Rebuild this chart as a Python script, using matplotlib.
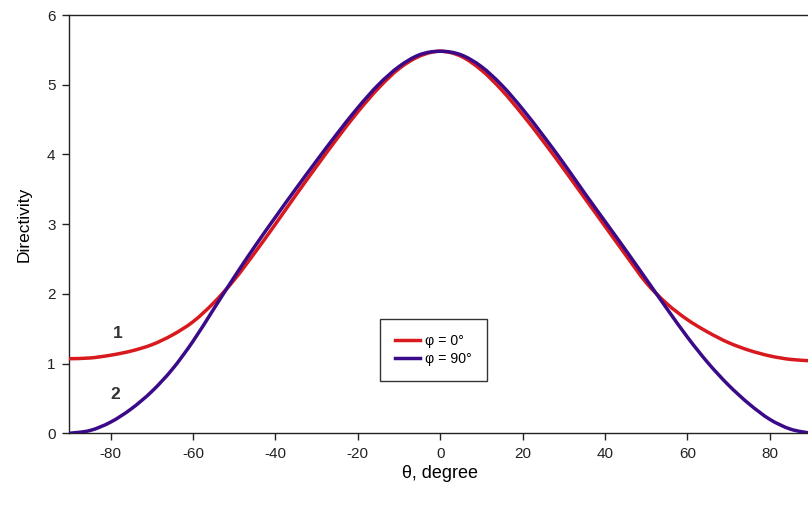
import matplotlib
matplotlib.use("Agg")
import matplotlib.pyplot as plt
from matplotlib.path import Path
from matplotlib.patches import PathPatch
from matplotlib.lines import Line2D

plt.rcParams['font.family'] = ['Liberation Sans', 'DejaVu Sans']
plt.rcParams['axes.unicode_minus'] = False

theta = [-90, -85, -80, -75, -70, -65, -60, -55, -50, -45, -40, -35, -30, -25,
         -20, -15, -10, -5, 0, 5, 10, 15, 20, 25, 30, 35, 40, 45, 50, 55, 60,
         65, 70, 75, 80, 85, 90]

d_phi0 = [1.07, 1.08, 1.12, 1.18, 1.27, 1.41, 1.60, 1.87, 2.20, 2.59, 3.00,
          3.42, 3.83, 4.23, 4.61, 4.95, 5.23, 5.41, 5.48, 5.41, 5.21, 4.92,
          4.57, 4.19, 3.79, 3.38, 2.97, 2.56, 2.16, 1.86, 1.63, 1.45, 1.30,
          1.19, 1.11, 1.06, 1.04]

d_phi90 = [0.00, 0.04, 0.16, 0.35, 0.60, 0.92, 1.32, 1.78, 2.24, 2.68, 3.10,
           3.51, 3.91, 4.30, 4.67, 5.00, 5.26, 5.43, 5.48, 5.43, 5.26, 4.99,
           4.65, 4.27, 3.87, 3.45, 3.04, 2.63, 2.21, 1.79, 1.38, 1.01, 0.69,
           0.42, 0.20, 0.06, 0.00]

labels = ['\u03c6 = 0\u00b0', '\u03c6 = 90\u00b0']
colors = ['#d8191e', '#3a0a88']

xticks = [-80, -60, -40, -20, 0, 20, 40, 60, 80]
yticks = [0, 1, 2, 3, 4, 5, 6]


def smooth_path(xs, ys):
    """Catmull-Rom spline through the data points, as a Bezier path."""
    n = len(xs)
    pts = list(zip(xs, ys))
    verts = [pts[0]]
    codes = [Path.MOVETO]
    for i in range(n - 1):
        p0 = pts[i - 1] if i > 0 else pts[i]
        p1 = pts[i]
        p2 = pts[i + 1]
        p3 = pts[i + 2] if i + 2 < n else pts[i + 1]
        c1 = (p1[0] + (p2[0] - p0[0]) / 6.0, p1[1] + (p2[1] - p0[1]) / 6.0)
        c2 = (p2[0] - (p3[0] - p1[0]) / 6.0, p2[1] - (p3[1] - p1[1]) / 6.0)
        verts += [c1, c2, p2]
        codes += [Path.CURVE4] * 3
    return Path(verts, codes)


fig = plt.figure(figsize=(8.08, 5.07), dpi=100)
ax = fig.add_axes([0.0859, 0.1454, 0.9178, 0.825])

handles = []
for ys, col, lab, z in [(d_phi0, colors[0], labels[0], 3),
                        (d_phi90, colors[1], labels[1], 4)]:
    patch = PathPatch(smooth_path(theta, ys), facecolor='none', edgecolor=col,
                      lw=2.5, zorder=z, capstyle='round', joinstyle='round')
    ax.add_patch(patch)
    handles.append(Line2D([], [], color=col, lw=2.5, label=lab))

ax.set_xlim(-90, 90)
ax.set_ylim(0, 6)
ax.set_xticks(xticks)
ax.set_yticks(yticks)
ax.tick_params(direction='out', length=5, width=1, labelsize=11,
               colors='#222222', pad=5)
for side in ['left', 'bottom', 'top']:
    ax.spines[side].set_linewidth(1.0)
    ax.spines[side].set_color('#222222')
ax.spines['right'].set_visible(False)

ax.set_xlabel('\u03b8, degree', fontsize=13, labelpad=3)
ax.set_ylabel('Directivity', fontsize=12.5, labelpad=11)

ax.text(-78.3, 1.43, '1', fontsize=12.5, fontweight='bold', color='#333333',
        ha='center', va='center')
ax.text(-78.8, 0.55, '2', fontsize=12.5, fontweight='bold', color='#333333',
        ha='center', va='center')

leg = ax.legend(handles=handles, loc='lower left', bbox_to_anchor=(0.419, 0.125),
                fontsize=10.2, fancybox=False, edgecolor='#333333', framealpha=1,
                handlelength=1.75, borderpad=1.05, labelspacing=0.3,
                handletextpad=0.4, borderaxespad=0)
leg.get_frame().set_linewidth(1.0)

fig.savefig('out.png', dpi=100)
